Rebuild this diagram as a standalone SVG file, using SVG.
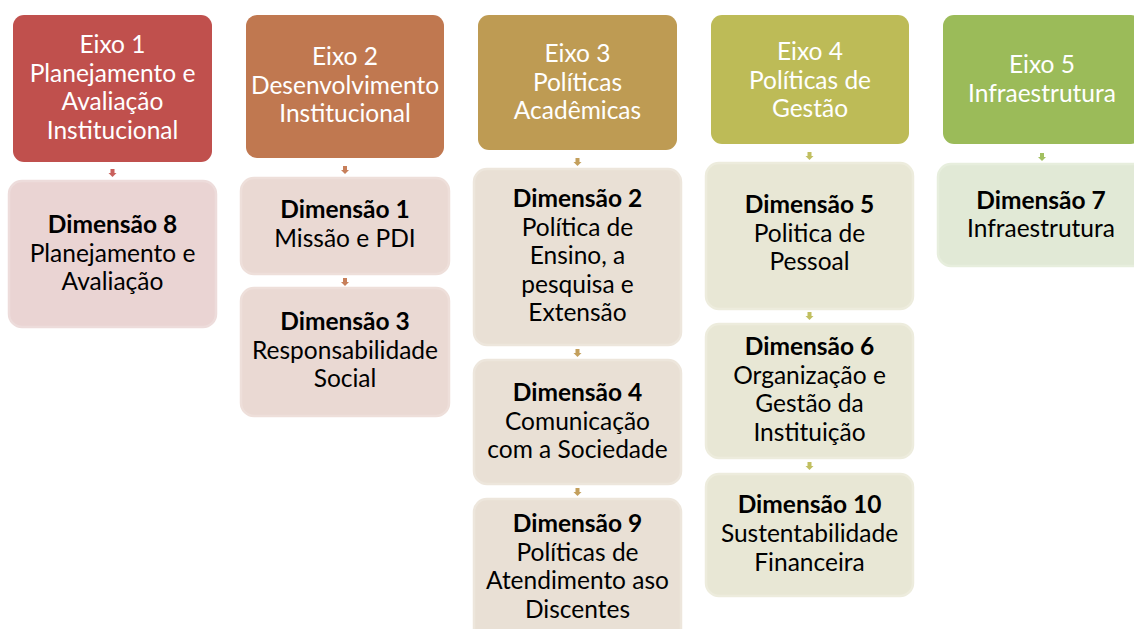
<svg xmlns="http://www.w3.org/2000/svg" xmlns:xlink="http://www.w3.org/1999/xlink" width="1134" height="629" viewBox="0 0 1134 629">
<style>
  text { font-family: Lato, "Liberation Sans", sans-serif; font-size: 24.5px; text-anchor: middle; }
  .h text { fill: #ffffff; }
  .c text { fill: #000000; }
  .b { font-weight: bold; }
  .hb { stroke: none; }
  .cb { stroke-width: 2.5; }
</style>
<defs>
  <path id="arr" d="M-2,0 H2 V4 H4 L0,8 L-4,4 H-2 Z"/>
</defs>
<rect width="1134" height="629" fill="#ffffff"/>

<g id="eixo1" class="h">
  <rect class="hb" x="13" y="15" width="199" height="147" rx="11" fill="#C0504D"/>
  <text x="112.5" y="53">Eixo 1</text>
  <text x="112.5" y="81.5">Planejamento e</text>
  <text x="112.5" y="110">Avaliação</text>
  <text x="112.5" y="138.5">Institucional</text>
</g>
<g id="eixo2" class="h">
  <rect class="hb" x="246" y="15" width="198" height="143" rx="11" fill="#C07850"/>
  <text x="345" y="65">Eixo 2</text>
  <text x="345" y="93.5">Desenvolvimento</text>
  <text x="345" y="122">Institucional</text>
</g>
<g id="eixo3" class="h">
  <rect class="hb" x="478" y="15" width="199" height="135" rx="11" fill="#BE9B53"/>
  <text x="577.5" y="62">Eixo 3</text>
  <text x="577.5" y="90.5">Políticas</text>
  <text x="577.5" y="119">Acadêmicas</text>
</g>
<g id="eixo4" class="h">
  <rect class="hb" x="711" y="15" width="198" height="129" rx="11" fill="#BDBB57"/>
  <text x="810" y="60">Eixo 4</text>
  <text x="810" y="88.5">Políticas de</text>
  <text x="810" y="117">Gestão</text>
</g>
<g id="eixo5" class="h">
  <rect class="hb" x="943" y="15" width="199" height="129" rx="11" fill="#9BBB59"/>
  <text x="1042" y="73">Eixo 5</text>
  <text x="1042" y="101.5">Infraestrutura</text>
</g>

<g id="dim8" class="c">
  <rect class="cb" x="9" y="181" width="207" height="146" rx="13" fill="#EAD4D3" stroke="#EDDCDB"/>
  <text class="b" x="112.5" y="233">Dimensão 8</text>
  <text x="112.5" y="261.5">Planejamento e</text>
  <text x="112.5" y="290">Avaliação</text>
</g>
<g id="dim1" class="c">
  <rect class="cb" x="241" y="178" width="208" height="96" rx="13" fill="#EAD9D3" stroke="#EEDFDA"/>
  <text class="b" x="345" y="218">Dimensão 1</text>
  <text x="345" y="247">Missão e PDI</text>
</g>
<g id="dim3" class="c">
  <rect class="cb" x="241" y="288" width="208" height="128" rx="13" fill="#EAD9D3" stroke="#EEDFDA"/>
  <text class="b" x="345" y="330">Dimensão 3</text>
  <text x="345" y="358.5">Responsabilidade</text>
  <text x="345" y="387">Social</text>
</g>
<g id="dim2" class="c">
  <rect class="cb" x="474" y="169" width="207" height="176" rx="13" fill="#E9E0D5" stroke="#EDE6DC"/>
  <text class="b" x="577.5" y="207">Dimensão 2</text>
  <text x="577.5" y="235.5">Política de</text>
  <text x="577.5" y="264">Ensino, a</text>
  <text x="577.5" y="292.5">pesquisa e</text>
  <text x="577.5" y="321">Extensão</text>
</g>
<g id="dim4" class="c">
  <rect class="cb" x="474" y="360" width="207" height="124" rx="13" fill="#E9E0D5" stroke="#EDE6DC"/>
  <text class="b" x="577.5" y="401">Dimensão 4</text>
  <text x="577.5" y="429.5">Comunicação</text>
  <text x="577.5" y="458">com a Sociedade</text>
</g>
<g id="dim9" class="c">
  <rect class="cb" x="474" y="499" width="207" height="146" rx="13" fill="#E9E0D5" stroke="#EDE6DC"/>
  <text class="b" x="577.5" y="532">Dimensão 9</text>
  <text x="577.5" y="560.5">Políticas de</text>
  <text x="577.5" y="589">Atendimento aso</text>
  <text x="577.5" y="617.5">Discentes</text>
</g>
<g id="dim5" class="c">
  <rect class="cb" x="706" y="163" width="207" height="146" rx="13" fill="#E8E7D5" stroke="#EDECDD"/>
  <text class="b" x="809.5" y="213">Dimensão 5</text>
  <text x="809.5" y="241.5">Politica de</text>
  <text x="809.5" y="270">Pessoal</text>
</g>
<g id="dim6" class="c">
  <rect class="cb" x="706" y="324" width="207" height="134" rx="13" fill="#E8E7D5" stroke="#EDECDD"/>
  <text class="b" x="809.5" y="355">Dimensão 6</text>
  <text x="809.5" y="383.5">Organização e</text>
  <text x="809.5" y="412">Gestão da</text>
  <text x="809.5" y="440.5">Instituição</text>
</g>
<g id="dim10" class="c">
  <rect class="cb" x="706" y="474" width="207" height="122" rx="13" fill="#E8E7D5" stroke="#EDECDD"/>
  <text class="b" x="809.5" y="513">Dimensão 10</text>
  <text x="809.5" y="542">Sustentabilidade</text>
  <text x="809.5" y="571">Financeira</text>
</g>
<g id="dim7" class="c">
  <rect class="cb" x="938" y="164" width="208" height="102" rx="13" fill="#E1E9D6" stroke="#E7EEDD"/>
  <text class="b" x="1041" y="209">Dimensão 7</text>
  <text x="1041" y="237">Infraestrutura</text>
</g>

<g id="connectors">
  <use xlink:href="#arr" x="112.5" y="169" fill="#C9605C"/>
  <use xlink:href="#arr" x="345" y="166" fill="#C77F5A"/>
  <use xlink:href="#arr" x="345" y="278" fill="#C77F5A"/>
  <use xlink:href="#arr" x="577.5" y="158" fill="#C39F5C"/>
  <use xlink:href="#arr" x="577.5" y="349" fill="#C39F5C"/>
  <use xlink:href="#arr" x="577.5" y="488" fill="#C39F5C"/>
  <use xlink:href="#arr" x="809.5" y="152" fill="#C1BF60"/>
  <use xlink:href="#arr" x="809.5" y="312" fill="#C1BF60"/>
  <use xlink:href="#arr" x="809.5" y="462" fill="#C1BF60"/>
  <use xlink:href="#arr" x="1042" y="153" fill="#A2C060"/>
</g>
</svg>
